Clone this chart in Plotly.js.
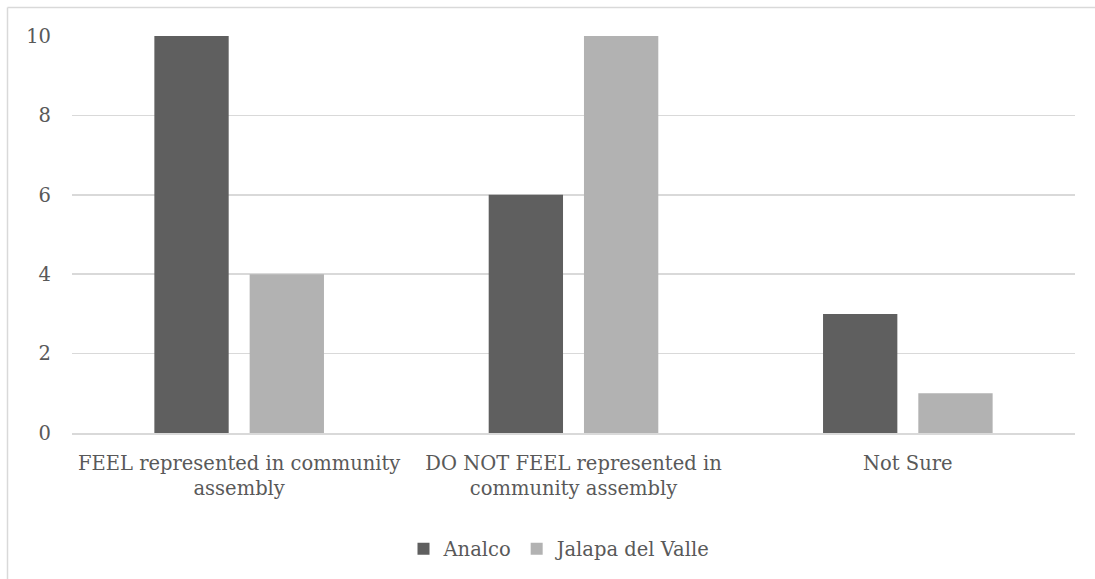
<!DOCTYPE html>
<html>
<head>
<meta charset="utf-8">
<script src="https://cdn.plot.ly/plotly-3.0.1.min.js"></script>
<style>html,body{margin:0;padding:0;background:#fff;}#chart{width:1095px;height:579px;}</style>
</head>
<body>
<div id="chart"></div>
<script>
const categories = ["FEEL represented in community<br>assembly", "DO NOT FEEL represented in<br>community assembly", "Not Sure"];
const seriesNames = ["Analco", "Jalapa del Valle"];
const analco = [10, 6, 3];
const jalapa = [4, 10, 1];
const yTicks = [0, 2, 4, 6, 8, 10];

const font = {family: "DejaVu Serif, serif", color: "#595959", size: 19.5};

const traces = [
  {type: "bar", name: seriesNames[0], x: categories, y: analco, marker: {color: "#5f5f5f"}},
  {type: "bar", name: seriesNames[1], x: categories, y: jalapa, marker: {color: "#b2b2b2"}}
];

const W = 1095, H = 579, L = 72, R = 20, T = 36, B = 145;
const pw = W - L - R, ph = H - T - B;
const px = v => (v - L) / pw;
const py = v => (T + ph - v) / ph;

const layout = {
  width: W, height: H,
  margin: {l: L, r: R, t: T, b: B},
  paper_bgcolor: "#fff", plot_bgcolor: "#fff",
  font: font,
  barmode: "group",
  bargap: 0.43,
  bargroupgap: 0.22,
  showlegend: true,
  legend: {orientation: "h", x: px(560), xanchor: "center", y: py(549), yanchor: "middle", font: font, itemwidth: 20, traceorder: "normal"},
  xaxis: {type: "category", showgrid: false, showline: true, linecolor: "#d9d9d9", linewidth: 1.5, ticks: "", tickfont: font, ticklabelstandoff: 12, zeroline: false},
  yaxis: {range: [0, 10], tickvals: yTicks, showgrid: true, gridcolor: "#d9d9d9", gridwidth: 1.5, showline: false, zeroline: false, ticks: "", tickfont: font, ticklabelstandoff: 20},
  shapes: [
    {type: "line", xref: "paper", yref: "paper", x0: px(7.5), x1: px(7.5), y0: py(7.5), y1: py(600), line: {color: "#d9d9d9", width: 1.5}},
    {type: "line", xref: "paper", yref: "paper", x0: px(7.5), x1: px(1110), y0: py(7.5), y1: py(7.5), line: {color: "#d9d9d9", width: 1.5}}
  ]
};

Plotly.newPlot("chart", traces, layout, {displayModeBar: false, staticPlot: true});
</script>
</body>
</html>
